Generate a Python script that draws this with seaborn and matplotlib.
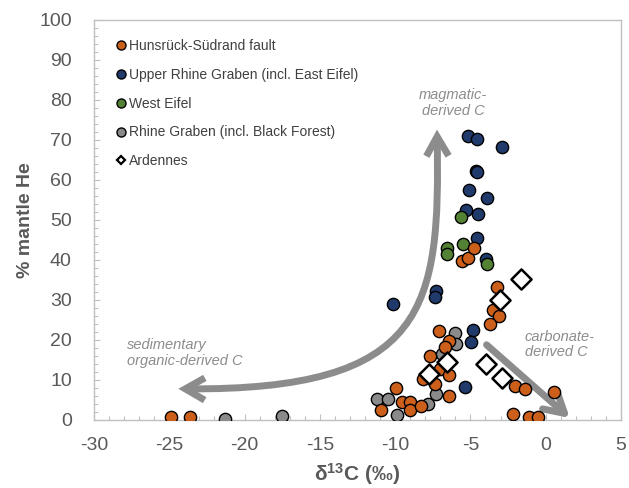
import matplotlib
matplotlib.use("Agg")
import matplotlib.pyplot as plt
import seaborn as sns
import pandas as pd
from matplotlib.lines import Line2D
from matplotlib.patches import FancyArrowPatch
from matplotlib.path import Path
from matplotlib.ticker import MultipleLocator

# ---------------- data ----------------
hunsrueck_x = [-24.9, -23.6, -10.96, -9.95, -9.57, -9.02, -9.02, -8.31, -8.13, -7.69,
               -7.36, -7.03, -6.41, -6.41, -7.09, -6.40, -6.69, -5.58, -5.15, -4.75,
               -3.26, -3.48, -3.09, -3.70, -2.04, -1.38, 0.55, -2.16, -1.10, -0.50]
hunsrueck_y = [0.8, 0.8, 2.4, 7.9, 4.6, 4.6, 2.4, 3.5, 10.2, 16.0,
               9.0, 12.7, 11.3, 6.0, 22.2, 19.8, 18.3, 39.8, 40.5, 42.9,
               33.2, 27.4, 26.1, 23.9, 8.5, 7.7, 7.1, 1.4, 0.8, 0.8]

upper_rhine_x = [-5.15, -4.59, -2.93, -4.63, -4.55, -5.08, -3.92, -5.30, -4.52, -4.59,
                 -3.97, -10.13, -7.29, -7.36, -4.85, -4.97, -5.36]
upper_rhine_y = [71.1, 70.3, 68.2, 62.3, 62.0, 57.4, 55.4, 52.5, 51.6, 45.4,
                 40.2, 29.1, 32.2, 30.7, 22.5, 19.4, 8.3]

west_eifel_x = [-5.65, -5.48, -6.58, -6.54, -3.92]
west_eifel_y = [50.7, 43.9, 43.1, 41.4, 38.9]

rhine_graben_x = [-21.3, -17.54, -11.23, -10.46, -9.86, -7.80, -7.29, -6.91, -6.00, -5.96]
rhine_graben_y = [0.2, 1.0, 5.2, 5.2, 1.2, 3.9, 6.6, 16.5, 21.7, 19.0]

ardennes_x = [-1.65, -3.04, -6.54, -7.73, -3.97, -2.93]
ardennes_y = [35.2, 29.9, 14.6, 11.6, 14.0, 10.5]

group_names = ["Hunsrück-Südrand fault", "Upper Rhine Graben (incl. East Eifel)",
               "West Eifel", "Rhine Graben (incl. Black Forest)", "Ardennes"]

x_ticks = [-30, -25, -20, -15, -10, -5, 0, 5]
y_ticks = [0, 10, 20, 30, 40, 50, 60, 70, 80, 90, 100]

# ---------------- style ----------------
sns.set_theme(style="white")
plt.rcParams["font.family"] = ["Liberation Sans", "DejaVu Sans"]
plt.rcParams["axes.unicode_minus"] = False
plt.rcParams["mathtext.fontset"] = "custom"
plt.rcParams["mathtext.rm"] = "Liberation Sans"
plt.rcParams["mathtext.bf"] = "Liberation Sans:bold"
plt.rcParams["mathtext.it"] = "Liberation Sans:italic"

c_orange = "#cc5f1a"
c_blue = "#1f3a6b"
c_green = "#548235"
c_grey = "#8a8a8a"
c_anno = "#8c8c8c"
c_text = "#595959"

fig = plt.figure(figsize=(6.29, 4.88), dpi=100)
ax = fig.add_axes([94 / 629, 1 - 420 / 488, 527 / 629, 400 / 488])

def frame(xs, ys, name):
    return pd.DataFrame({"x": xs, "y": ys, "group": name})

df_h = frame(hunsrueck_x, hunsrueck_y, group_names[0])
df_u = frame(upper_rhine_x, upper_rhine_y, group_names[1])
df_w = frame(west_eifel_x, west_eifel_y, group_names[2])
df_r = frame(rhine_graben_x, rhine_graben_y, group_names[3])
df_a = frame(ardennes_x, ardennes_y, group_names[4])

circ_kw = dict(s=78, edgecolor="black", linewidth=1.0, legend=False, ax=ax, zorder=3)
sns.scatterplot(data=df_u, x="x", y="y", color=c_blue, **circ_kw)
sns.scatterplot(data=df_w, x="x", y="y", color=c_green, **circ_kw)
sns.scatterplot(data=df_r, x="x", y="y", color=c_grey, **circ_kw)
sns.scatterplot(data=df_h, x="x", y="y", color=c_orange, **circ_kw)
sns.scatterplot(data=df_a, x="x", y="y", color="white", marker="D", s=105,
                edgecolor="black", linewidth=1.8, legend=False, ax=ax, zorder=4)

# ---------------- arrows ----------------
curve = Path([(-24.4, 7.8), (-7.8, 7.3), (-7.0, 28.0), (-7.22, 72.6)],
             [Path.MOVETO, Path.CURVE4, Path.CURVE4, Path.CURVE4])
arr1 = FancyArrowPatch(path=curve, arrowstyle="<->,head_length=14,head_width=8",
                       color=c_anno, lw=5, zorder=2, capstyle="butt", joinstyle="miter")
ax.add_patch(arr1)
arr2 = FancyArrowPatch((-3.93, 18.8), (1.6, 0.5), arrowstyle="->,head_length=14,head_width=8",
                       color=c_anno, lw=5, zorder=2, shrinkA=0, shrinkB=0)
ax.add_patch(arr2)

tkw = dict(color=c_anno, fontstyle="italic", fontsize=10.5, linespacing=1.15)
ax.text(-6.15, 79.2, "magmatic-\nderived C", ha="center", va="center", **tkw)
ax.text(-27.8, 16.7, "sedimentary\norganic-derived C", ha="left", va="center", **tkw)
ax.text(-1.4, 18.9, "carbonate-\nderived C", ha="left", va="center", **tkw)

# ---------------- axes ----------------
ax.set_xlim(-30, 5)
ax.set_ylim(0, 100)
ax.set_xticks(x_ticks)
ax.set_yticks(y_ticks)
ax.xaxis.set_minor_locator(MultipleLocator(1))
ax.yaxis.set_minor_locator(MultipleLocator(2))
ax.tick_params(axis="both", which="both", direction="in", color="#bfbfbf",
               labelsize=14, labelcolor=c_text, bottom=True, left=True)
ax.tick_params(which="major", length=4, width=0.8)
ax.tick_params(which="minor", length=3, width=0.8)
ax.tick_params(axis="x", which="major", pad=12)
ax.tick_params(axis="y", which="major", pad=16)
for sp in ax.spines.values():
    sp.set_color("#bfbfbf")
    sp.set_linewidth(1.0)

ax.set_xlabel(r"δ$^{\mathbf{13}}$C (‰)", fontsize=15, fontweight="bold", color=c_text, labelpad=5)
ax.set_ylabel("% mantle He", fontsize=14, fontweight="bold", color=c_text, labelpad=4)

# ---------------- legend ----------------
handles = [
    Line2D([], [], ls="none", marker="o", ms=6.5, mfc=c_orange, mec="black", mew=1),
    Line2D([], [], ls="none", marker="o", ms=6.5, mfc=c_blue, mec="black", mew=1),
    Line2D([], [], ls="none", marker="o", ms=6.5, mfc=c_green, mec="black", mew=1),
    Line2D([], [], ls="none", marker="o", ms=6.5, mfc=c_grey, mec="black", mew=1),
    Line2D([], [], ls="none", marker="D", ms=4.5, mfc="white", mec="black", mew=1.6),
]
leg = ax.legend(handles, group_names, loc="upper left", bbox_to_anchor=(0.044, 0.953),
                frameon=False, fontsize=10, handlelength=0.6, handletextpad=0.25,
                labelspacing=1.07, borderaxespad=0, borderpad=0)
for t in leg.get_texts():
    t.set_color("#404040")

fig.savefig("out.png", dpi=100, facecolor="white")
